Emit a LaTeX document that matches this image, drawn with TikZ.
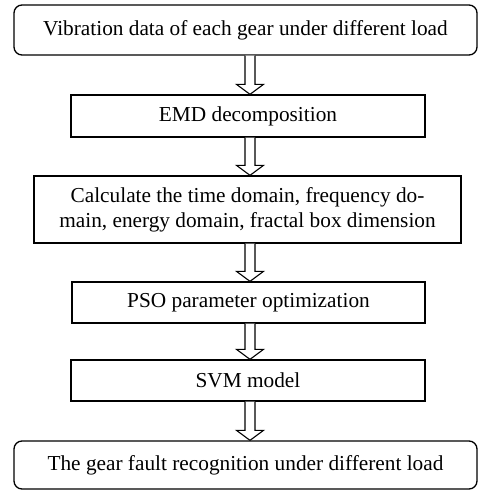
\documentclass[tikz,border=0pt]{standalone}
\usepackage{fontspec}
\setmainfont{Liberation Serif}
\usetikzlibrary{calc}
\begin{document}
\begin{tikzpicture}[x=1pt,y=1pt,
  box/.style={draw, line width=1.3pt, inner sep=0pt, align=center,
    font=\fontsize{21.3}{25}\selectfont},
  rbox/.style={box, rounded corners=8pt},
  arr/.style={draw, line width=1.1pt, fill=white, line join=miter}]
\useasboundingbox (0,0) rectangle (478,-490);
\node[rbox, minimum width=463pt, minimum height=50pt] (b1) at (245.5,-30) {Vibration data of each gear under different load};
\node[box, minimum width=354pt, minimum height=42pt] (b2) at (248,-116) {EMD decomposition};
\node[box, minimum width=427pt, minimum height=67pt] (b3) at (247.5,-209.5) {Calculate the time domain, frequency do-\\main, energy domain, fractal box dimension};
\node[box, minimum width=353pt, minimum height=41pt] (b4) at (248.5,-302.5) {PSO parameter optimization};
\node[box, minimum width=354pt, minimum height=41pt] (b5) at (248,-380.5) {SVM model};
\node[rbox, minimum width=463pt, minimum height=48pt] (b6) at (245.5,-465) {The gear fault recognition under different load};
\newcommand\blockarr[2]{%
  \draw[arr] let \p1=(#1.south), \p2=(#2.north) in
    (250-5,\y1) -- (250-5,\y2+10) -- (250-13.5,\y2+10) -- (250,\y2)
    -- (250+13.5,\y2+10) -- (250+5,\y2+10) -- (250+5,\y1);}
\blockarr{b1}{b2}
\blockarr{b2}{b3}
\blockarr{b3}{b4}
\blockarr{b4}{b5}
\blockarr{b5}{b6}
\end{tikzpicture}
\end{document}
